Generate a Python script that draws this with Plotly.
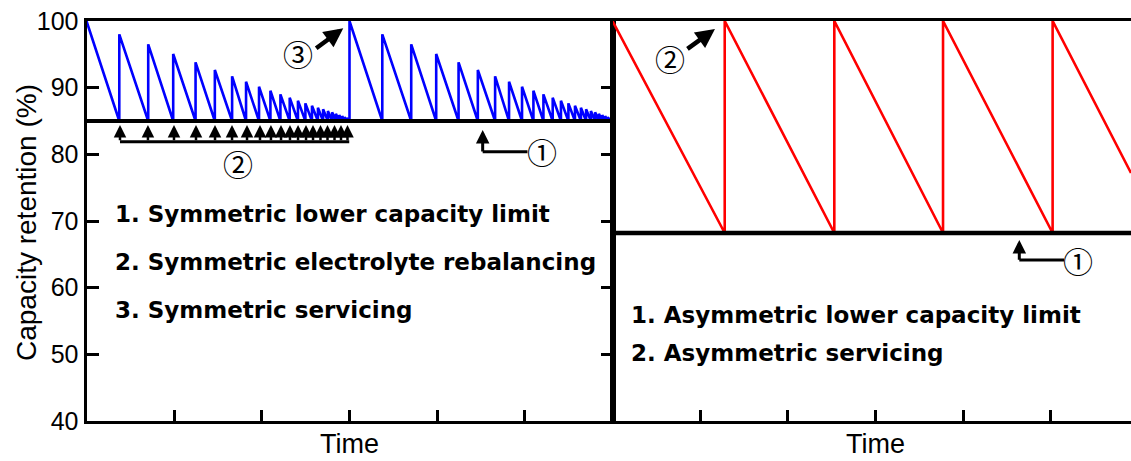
import plotly.graph_objects as go

W, H = 1131, 461

# ---------------- data ----------------
x_ticks_left = [0, 1, 2, 3, 4, 5, 6]
x_ticks_right = [0, 1, 2, 3, 4, 5]
y_ticks = [40, 50, 60, 70, 80, 90, 100]

# Symmetric strategy (left panel)
sym_floor = 85.0
sym_full = 100.0
sym_service_times = [0.0, 3.0]
sym_rebalance_times = [
    0.374, 0.704, 0.989, 1.244, 1.464, 1.661, 1.820, 1.968, 2.098, 2.212, 2.318, 2.412,
    2.497, 2.572, 2.640, 2.699, 2.754, 2.802, 2.845, 2.883, 2.916, 2.944, 2.969, 2.992,
    3.374, 3.704, 3.989, 4.244, 4.464, 4.661, 4.820, 4.968, 5.098, 5.212, 5.318, 5.412,
    5.497, 5.572, 5.640, 5.699, 5.754, 5.802, 5.845, 5.883, 5.916, 5.944, 5.969, 5.992,
]
sym_rebalance_peaks = [
    98.0, 96.5, 95.05, 93.8, 92.65, 91.7, 90.9, 90.15, 89.55, 89.0, 88.5, 88.05,
    87.65, 87.3, 87.0, 86.75, 86.5, 86.3, 86.1, 85.9, 85.75, 85.6, 85.45, 85.3,
    98.0, 96.5, 95.05, 93.8, 92.65, 91.7, 90.9, 90.15, 89.55, 89.0, 88.5, 88.05,
    87.65, 87.3, 87.0, 86.75, 86.5, 86.3, 86.1, 85.9, 85.75, 85.6, 85.45, 85.3,
]
sym_end_time = 6.0
sym_arrow_times = [
    0.382, 0.701, 0.998, 1.249, 1.466, 1.660, 1.831, 1.979, 2.104, 2.219, 2.321, 2.413,
    2.504, 2.584, 2.669, 2.749, 2.829, 2.903, 2.977,
]

# Asymmetric strategy (right panel)
asym_floor = 68.2
asym_full = 100.0
asym_service_times = [0.0, 1.28, 2.53, 3.77, 5.02]
asym_end_time = 5.914
asym_end_value = 77.2

legend_sym = ["1. Symmetric lower capacity limit",
              "2. Symmetric electrolyte rebalancing",
              "3. Symmetric servicing"]
legend_asym = ["1. Asymmetric lower capacity limit",
               "2. Asymmetric servicing"]

# ---------------- build series ----------------
events = sorted([(t, sym_full) for t in sym_service_times] +
                list(zip(sym_rebalance_times, sym_rebalance_peaks)))
sx, sy = [], []
for t, v in events:
    if not sx:
        sx.append(t); sy.append(v)
    else:
        sx += [t, t]; sy += [sym_floor, v]
sx.append(sym_end_time); sy.append(sym_floor)

ax_, ay_ = [asym_service_times[0]], [asym_full]
for t in asym_service_times[1:]:
    ax_ += [t, t]; ay_ += [asym_floor, asym_full]
ax_.append(asym_end_time); ay_.append(asym_end_value)

fig = go.Figure()
fig.add_trace(go.Scatter(x=sx, y=sy, mode="lines", line=dict(color="#0000ff", width=2.6),
                         xaxis="x", yaxis="y", showlegend=False, hoverinfo="skip"))
fig.add_trace(go.Scatter(x=ax_, y=ay_, mode="lines", line=dict(color="#ff0000", width=2.6),
                         xaxis="x2", yaxis="y2", showlegend=False, hoverinfo="skip"))

# ---------------- layout ----------------
xl0, xm = 86.5 / W, 612.5 / W
yd = [40 / H, 440 / H]
common_ax = dict(showgrid=False, zeroline=False, showline=True, linecolor="black",
                 linewidth=3, tickcolor="black", tickwidth=3, automargin=False)

fig.update_layout(
    width=W, height=H, margin=dict(l=0, r=0, t=0, b=0, pad=0, autoexpand=False),
    paper_bgcolor="white", plot_bgcolor="white",
    xaxis=dict(domain=[xl0, xm], range=[0, 6], tickvals=x_ticks_left, ticks="inside",
               ticklen=11, showticklabels=False, mirror=True, anchor="y", **common_ax),
    yaxis=dict(domain=yd, range=[40, 100], tickvals=y_ticks, ticks="inside", ticklen=12,
               mirror="ticks", anchor="x", ticklabeloverflow="allow",
               tickfont=dict(family="Liberation Sans, Arial", size=25, color="black"),
               **common_ax),
    xaxis2=dict(domain=[xm, 1.0], range=[0, asym_end_time], tickvals=x_ticks_right,
                ticks="inside", ticklen=11, showticklabels=False, mirror=True,
                anchor="y2", **common_ax),
    yaxis2=dict(domain=yd, range=[40, 100], ticks="", showticklabels=False,
                anchor="x2", **common_ax),
    yaxis3=dict(domain=yd, range=[40, 100], overlaying="y2", anchor="x2", side="right",
                tickvals=y_ticks, ticks="inside", ticklen=3, tickwidth=3, tickcolor="black",
                showline=False, showgrid=False, zeroline=False, showticklabels=False,
                automargin=False),
)

shapes = [
    dict(type="line", xref="x domain", yref="y", x0=0, x1=1, y0=sym_floor, y1=sym_floor,
         line=dict(color="black", width=4)),
    dict(type="line", xref="x2 domain", yref="y2", x0=0, x1=1, y0=asym_floor, y1=asym_floor,
         line=dict(color="black", width=4.5)),
    # bracket under the rebalancing arrows
    dict(type="line", xref="x", yref="y", x0=sym_arrow_times[0], x1=sym_arrow_times[-1] + 0.02,
         y0=81.9, y1=81.9, line=dict(color="black", width=3)),
    # elbow of marker 1 (left)
    dict(type="line", xref="x", yref="y", x0=4.519, x1=5.03, y0=80.4, y1=80.4,
         line=dict(color="black", width=3)),
    # elbow of marker 1 (right)
    dict(type="line", xref="x2", yref="y2", x0=4.640, x1=5.15, y0=64.15, y1=64.15,
         line=dict(color="black", width=3)),
]

ann = []
circ_font = dict(family="Noto Sans CJK JP", size=30, color="black")
text_font = dict(family="DejaVu Sans", size=23, color="black")

for t in sym_arrow_times:
    ann.append(dict(xref="x", yref="y", axref="x", ayref="y", x=t, y=84.4, ax=t, ay=81.9,
                    text="", showarrow=True, arrowhead=2, arrowsize=1.0, arrowwidth=2.5,
                    arrowcolor="black", standoff=0, startstandoff=0))
# marker 1 arrows
ann.append(dict(xref="x", yref="y", axref="x", ayref="y", x=4.519, y=83.65, ax=4.519, ay=80.2,
                text="", showarrow=True, arrowhead=2, arrowsize=0.9, arrowwidth=3,
                arrowcolor="black", standoff=0))
ann.append(dict(xref="x2", yref="y2", axref="x2", ayref="y2", x=4.640, y=67.15, ax=4.640,
                ay=63.95, text="", showarrow=True, arrowhead=2, arrowsize=0.9, arrowwidth=3,
                arrowcolor="black", standoff=0))
# servicing arrows
ann.append(dict(xref="x", yref="y", axref="x", ayref="y", x=2.929, y=98.9, ax=2.603, ay=95.75,
                text="", showarrow=True, arrowhead=2, arrowsize=0.85, arrowwidth=4.5,
                arrowcolor="black", standoff=0))
ann.append(dict(xref="x2", yref="y2", axref="x2", ayref="y2", x=1.169, y=98.8, ax=0.838,
                ay=95.65, text="", showarrow=True, arrowhead=2, arrowsize=0.85, arrowwidth=4.5,
                arrowcolor="black", standoff=0))
# circled numbers
ann += [
    dict(xref="x", yref="y", x=2.416, y=95.15, text="③", showarrow=False, font=circ_font),
    dict(xref="x", yref="y", x=1.732, y=78.65, text="②", showarrow=False, font=circ_font),
    dict(xref="x", yref="y", x=5.192, y=80.5, text="①", showarrow=False, font=circ_font),
    dict(xref="x2", yref="y2", x=0.656, y=94.4, text="②", showarrow=False, font=circ_font),
    dict(xref="x2", yref="y2", x=5.313, y=64.2, text="①", showarrow=False, font=circ_font),
]
# legend texts
for txt, yv in zip(legend_sym, [71.0, 63.85, 56.7]):
    ann.append(dict(xref="x", yref="y", x=0.30, y=yv, xanchor="left", text="<b>%s</b>" % txt,
                    showarrow=False, font=text_font))
for txt, yv in zip(legend_asym, [55.9, 50.2]):
    ann.append(dict(xref="x2", yref="y2", x=0.19, y=yv, xanchor="left", text="<b>%s</b>" % txt,
                    showarrow=False, font=text_font))
# axis titles
title_font = dict(family="Liberation Sans, Arial", size=27, color="black")
ann.append(dict(xref="x", yref="paper", x=3, y=0, text="Time", showarrow=False,
                font=title_font, yanchor="bottom"))
ann.append(dict(xref="x2", yref="paper", x=3, y=0, text="Time", showarrow=False,
                font=title_font, yanchor="bottom"))
ann.append(dict(xref="paper", yref="paper", x=27 / W, y=(H - 223) / H,
                text="Capacity retention (%)", textangle=-90, showarrow=False,
                font=dict(family="Liberation Sans, Arial", size=28, color="black"),
                xanchor="center", yanchor="middle"))

fig.update_layout(shapes=shapes, annotations=ann)
fig.write_html("out.html",
               config={"displayModeBar": False},
               post_script="document.body.style.margin='0';"
                           "document.body.style.overflow='hidden';")
